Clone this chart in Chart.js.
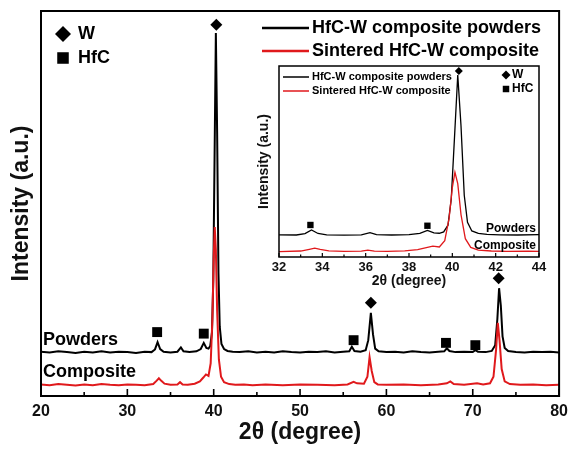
<!DOCTYPE html>
<html>
<head>
<meta charset="utf-8">
<script src="https://cdn.jsdelivr.net/npm/chart.js@4.4.0/dist/chart.umd.min.js"></script>
<style>
  html, body { margin: 0; padding: 0; background: #fff; }
  #wrap { position: relative; width: 574px; height: 449px; }
  #main { position: absolute; left: 0; top: 0; }
  #inset { position: absolute; left: 250px; top: 60px; }
</style>
</head>
<body>
<div id="wrap">
  <canvas id="main" width="574" height="449"></canvas>
  <canvas id="inset" width="300" height="235"></canvas>
</div>
<script>
// XRD patterns: 2θ (degree) and intensity (a.u., powders shifted up)
const powderAngles = [
  20.0, 21.0, 22.0, 23.0, 24.0, 25.0, 26.0, 27.0, 28.0, 29.0, 30.0, 31.0, 32.0,
  32.8, 33.2, 33.5, 33.8, 34.2, 35.0, 35.8, 36.2, 36.5, 37.2, 38.0, 38.5, 38.85,
  39.15, 39.4, 39.6, 39.8, 39.95, 40.1, 40.25, 40.4, 40.55, 40.7, 40.9, 41.2, 41.6,
  42.2, 43.0, 44.0, 45.0, 46.0, 47.0, 48.0, 49.0, 50.0, 51.0, 52.0, 53.0, 54.0,
  55.0, 55.7, 56.0, 56.3, 57.0, 57.6, 57.9, 58.2, 58.45, 58.7, 59.1, 60.0, 61.0,
  62.0, 63.0, 64.0, 65.0, 66.0, 66.7, 67.0, 67.3, 68.0, 69.0, 70.0, 70.3, 70.6,
  71.5, 72.2, 72.6, 72.85, 73.05, 73.25, 73.45, 73.7, 74.1, 75.0, 76.0, 77.0,
  78.0, 79.0, 80.0
];
const powderIntensity = [
  11.5, 11.3, 11.6, 11.4, 11.2, 11.5, 11.3, 11.6, 11.3, 11.5, 11.4, 11.2, 11.5,
  11.4, 12.1, 14.0, 12.2, 11.5, 11.3, 11.5, 12.6, 11.6, 11.4, 11.6, 12.2, 13.8,
  12.5, 12.3, 13.0, 16.5, 30.0, 62.0, 94.3, 68.0, 32.0, 18.0, 13.5, 12.2, 11.7,
  11.5, 11.4, 11.6, 11.3, 11.5, 11.3, 11.6, 11.4, 11.3, 11.5, 11.4, 11.6, 11.3,
  11.5, 11.6, 12.8, 11.7, 11.5, 11.9, 14.5, 21.6, 16.0, 12.3, 11.6, 11.4, 11.5,
  11.3, 11.6, 11.4, 11.3, 11.5, 11.6, 12.4, 11.7, 11.4, 11.5, 11.4, 11.9, 11.5,
  11.4, 11.7, 13.2, 20.0, 28.0, 23.5, 15.5, 12.5, 11.7, 11.4, 11.3, 11.5,
  11.4, 11.5, 11.3
];
const compositeAngles = [
  20.0, 21.0, 22.0, 23.0, 24.0, 25.0, 26.0, 27.0, 28.0, 29.0, 30.0, 31.0, 32.0,
  33.0, 33.4, 33.65, 33.9, 34.3, 35.0, 35.8, 36.1, 36.4, 37.0, 37.8, 38.4, 38.8,
  39.1, 39.4, 39.65, 39.85, 40.0, 40.12, 40.25, 40.4, 40.6, 40.85, 41.2, 41.8,
  42.5, 43.5, 44.5, 46.0, 48.0, 50.0, 52.0, 54.0, 55.5, 56.2, 56.6, 57.4, 57.8,
  58.05, 58.3, 58.6, 59.0, 60.0, 62.0, 64.0, 66.0, 67.0, 67.4, 67.8, 69.0, 70.5,
  71.2, 72.0, 72.4, 72.7, 72.9, 73.1, 73.35, 73.7, 74.3, 75.5, 77.0, 78.5, 80.0
];
const compositeIntensity = [
  3.0, 2.8, 3.1, 2.9, 2.7, 3.0, 2.8, 3.1, 2.9, 2.8, 3.0, 2.9, 2.8,
  3.1, 4.0, 4.6, 4.0, 3.2, 2.9, 3.0, 3.6, 3.0, 2.9, 3.2, 3.8, 4.8,
  5.6, 5.2, 8.5, 20.0, 36.0, 43.9, 38.0, 22.0, 9.5, 5.0, 3.6, 3.1,
  2.9, 3.0, 2.8, 3.0, 2.8, 3.0, 2.9, 2.8, 3.0, 3.7, 3.3, 3.2, 5.0,
  10.1, 6.5, 3.6, 3.0, 2.9, 3.0, 2.8, 3.0, 3.3, 3.8, 3.1, 2.9, 3.3,
  3.0, 3.3, 5.0, 12.0, 19.0, 14.5, 7.0, 3.8, 3.1, 2.9, 3.0, 2.8, 2.9
];

// phase markers placed over the peaks
const wAngles = [40.3, 58.2, 73.0];
const wHeights = [96.4, 24.2, 30.6];
const hfcAngles = [33.45, 38.85, 56.2, 66.9, 70.3];
const hfcHeights = [16.6, 16.2, 14.5, 13.8, 13.2];

const seriesNames = ['HfC-W composite powders', 'Sintered HfC-W composite'];
const seriesColors = ['#000000', '#e0191c'];

const FONT = '"Liberation Sans", Arial, sans-serif';

function toPoints(xs, ys) {
  return xs.map((x, i) => ({ x: x, y: ys[i] }));
}

function buildDatasets(lineWidth, diamondR, squareR) {
  return [
    {
      label: 'W',
      data: toPoints(wAngles, wHeights),
      showLine: false,
      pointStyle: 'rectRot',
      pointRadius: diamondR,
      backgroundColor: '#000',
      borderColor: '#000',
      borderWidth: 0
    },
    {
      label: 'HfC',
      data: toPoints(hfcAngles, hfcHeights),
      showLine: false,
      pointStyle: 'rect',
      pointRadius: squareR,
      backgroundColor: '#000',
      borderColor: '#000',
      borderWidth: 0
    },
    {
      label: seriesNames[1],
      data: toPoints(compositeAngles, compositeIntensity),
      borderColor: seriesColors[1],
      borderWidth: lineWidth,
      pointRadius: 0,
      tension: 0
    },
    {
      label: seriesNames[0],
      data: toPoints(powderAngles, powderIntensity),
      borderColor: seriesColors[0],
      borderWidth: lineWidth,
      pointRadius: 0,
      tension: 0
    }
  ];
}

// frame + inward ticks on the bottom axis
function framePlugin(lineWidth, majorLen, minorLen, fill) {
  return {
    id: 'frame',
    beforeDatasetsDraw(chart) {
      if (!fill) return;
      const a = chart.chartArea;
      chart.ctx.save();
      chart.ctx.fillStyle = '#fff';
      chart.ctx.fillRect(a.left, a.top, a.right - a.left, a.bottom - a.top);
      chart.ctx.restore();
    },
    afterDraw(chart) {
      const { ctx, chartArea: a } = chart;
      const xs = chart.scales.x;
      ctx.save();
      ctx.strokeStyle = '#000';
      ctx.lineWidth = lineWidth;
      ctx.strokeRect(a.left, a.top, a.right - a.left, a.bottom - a.top);
      ctx.lineWidth = lineWidth * 0.8;
      const ticks = xs.ticks.map(t => t.value);
      ctx.beginPath();
      ticks.forEach((v, i) => {
        const px = xs.getPixelForValue(v);
        ctx.moveTo(px, a.bottom);
        ctx.lineTo(px, a.bottom - majorLen);
        if (i < ticks.length - 1) {
          const mx = xs.getPixelForValue((v + ticks[i + 1]) / 2);
          ctx.moveTo(mx, a.bottom);
          ctx.lineTo(mx, a.bottom - minorLen);
        }
      });
      ctx.stroke();
      ctx.restore();
    }
  };
}

function diamond(ctx, x, y, r) {
  ctx.beginPath();
  ctx.moveTo(x, y - r);
  ctx.lineTo(x + r, y);
  ctx.lineTo(x, y + r);
  ctx.lineTo(x - r, y);
  ctx.closePath();
  ctx.fill();
}

// legends and pattern labels
function labelsPlugin(cfg) {
  return {
    id: 'labels',
    afterDraw(chart) {
      const ctx = chart.ctx;
      ctx.save();
      ctx.textBaseline = 'middle';
      ctx.textAlign = 'left';
      ctx.font = 'bold ' + cfg.legendSize + 'px ' + FONT;
      seriesNames.forEach((name, i) => {
        const y = cfg.legendY[i];
        ctx.strokeStyle = seriesColors[i];
        ctx.lineWidth = cfg.legendLine;
        ctx.beginPath();
        ctx.moveTo(cfg.legendX0, y);
        ctx.lineTo(cfg.legendX1, y);
        ctx.stroke();
        ctx.fillStyle = '#000';
        ctx.fillText(name, cfg.legendX1 + 3, y);
      });

      ctx.fillStyle = '#000';
      ctx.font = 'bold ' + cfg.phaseSize + 'px ' + FONT;
      diamond(ctx, cfg.phaseX, cfg.phaseY[0], cfg.phaseR);
      const s = cfg.phaseR * 0.72;
      ctx.fillRect(cfg.phaseX - s, cfg.phaseY[1] - s, 2 * s, 2 * s);
      ctx.fillText('W', cfg.phaseTextX, cfg.phaseY[0]);
      ctx.fillText('HfC', cfg.phaseTextX, cfg.phaseY[1]);

      ctx.font = 'bold ' + cfg.tagSize + 'px ' + FONT;
      ctx.textAlign = cfg.tagAlign;
      ctx.fillText('Powders', cfg.tagX, cfg.tagY[0]);
      ctx.fillText('Composite', cfg.tagX, cfg.tagY[1]);
      ctx.restore();
    }
  };
}

// main pattern, 20–80°
new Chart(document.getElementById('main'), {
  type: 'line',
  data: { datasets: buildDatasets(2, 6, 7) },
  options: {
    responsive: false,
    animation: false,
    layout: { padding: { top: 11, right: 11, left: 0, bottom: 0 } },
    plugins: { legend: { display: false }, tooltip: { enabled: false } },
    scales: {
      x: {
        type: 'linear',
        min: 20,
        max: 80,
        grid: { display: false, drawTicks: false },
        border: { display: false },
        ticks: { stepSize: 10, padding: 6, color: '#111', font: { family: FONT, size: 16, weight: 'bold' } },
        title: {
          display: true,
          text: '2θ (degree)',
          color: '#111',
          padding: { top: 0, bottom: 3 },
          font: { family: FONT, size: 23, weight: 'bold' }
        },
        afterFit(scale) { scale.height = 53; }
      },
      y: {
        min: 0,
        max: 100,
        grid: { display: false, drawTicks: false },
        border: { display: false },
        ticks: { display: false },
        title: {
          display: true,
          text: 'Intensity (a.u.)',
          color: '#111',
          padding: { top: 8, bottom: 0 },
          font: { family: FONT, size: 23, weight: 'bold' }
        },
        afterFit(scale) { scale.width = 41; }
      }
    }
  },
  plugins: [
    framePlugin(2, 7, 4, false),
    labelsPlugin({
      legendSize: 18, legendY: [28, 51], legendX0: 262, legendX1: 309, legendLine: 2.5,
      phaseSize: 18, phaseX: 63, phaseY: [34, 58], phaseR: 8, phaseTextX: 78,
      tagSize: 18, tagAlign: 'left', tagX: 43, tagY: [340, 372]
    })
  ]
});

// inset: close-up of 32–44°
new Chart(document.getElementById('inset'), {
  type: 'line',
  data: { datasets: buildDatasets(1.3, 4, 4.5) },
  options: {
    responsive: false,
    animation: false,
    layout: { padding: { top: 6, right: 11, left: 0, bottom: 0 } },
    plugins: { legend: { display: false }, tooltip: { enabled: false } },
    scales: {
      x: {
        type: 'linear',
        min: 32,
        max: 44,
        grid: { display: false, drawTicks: false },
        border: { display: false },
        ticks: { stepSize: 2, padding: 3, color: '#111', font: { family: FONT, size: 13, weight: 'bold' } },
        title: {
          display: true,
          text: '2θ (degree)',
          color: '#111',
          padding: { top: 0, bottom: 5 },
          font: { family: FONT, size: 14, weight: 'bold' }
        },
        afterFit(scale) { scale.height = 38; }
      },
      y: {
        min: 0,
        max: 99,
        grid: { display: false, drawTicks: false },
        border: { display: false },
        ticks: { display: false },
        title: {
          display: true,
          text: 'Intensity (a.u.)',
          color: '#111',
          padding: { top: 6, bottom: 0 },
          font: { family: FONT, size: 14, weight: 'bold' }
        },
        afterFit(scale) { scale.width = 29; }
      }
    }
  },
  plugins: [
    framePlugin(1.5, 4, 2.5, true),
    labelsPlugin({
      legendSize: 11, legendY: [17, 31], legendX0: 33, legendX1: 59, legendLine: 1.5,
      phaseSize: 12, phaseX: 256, phaseY: [15, 29], phaseR: 4.5, phaseTextX: 262,
      tagSize: 12, tagAlign: 'right', tagX: 286, tagY: [169, 186]
    })
  ]
});
</script>
</body>
</html>
